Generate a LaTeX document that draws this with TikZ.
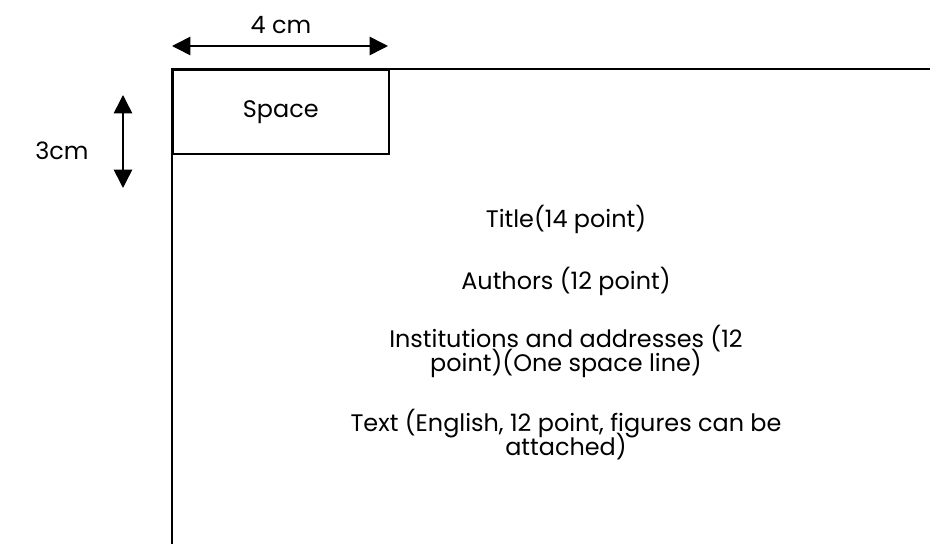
\documentclass[tikz,border=0pt]{standalone}
\usepackage{fontspec}
\setmainfont{Poppins}
\usetikzlibrary{arrows.meta}

\newcommand\tightlines{\lineskiplimit=-100pt\relax\lineskip=0pt\relax}

\tikzset{
  label text/.style={font=\fontsize{17}{17}\selectfont\tightlines, align=center, inner sep=0pt},
  dim arrow/.style={line width=1.1pt, {Triangle[length=13pt,width=13pt]}-{Triangle[length=13pt,width=13pt]}}
}

\begin{document}
\begin{tikzpicture}[x=0.025cm, y=-0.025cm]
    \useasboundingbox (0,0) rectangle (930,544);

    % page edge
    \coordinate (corner) at (172,69);
    \draw [line width=1.3pt] (930,69) -- (corner) -- (172,544);

    % free space in the corner
    \node [draw, line width=1.1pt, minimum width=5.4cm, minimum height=2.1cm, anchor=north west, label text] (space) at (corner) {Space};

    % dimensions
    \coordinate (wl) at (172,46);
    \coordinate (wr) at (388,46);
    \draw [dim arrow] (wl) -- (wr);
    \node [label text] (width) at (281,25) {4 cm};

    \coordinate (ht) at (123,95);
    \coordinate (hb) at (123,188);
    \draw [dim arrow] (ht) -- (hb);
    \node [label text] (height) at (62,151) {3cm};

    % contents of the page
    \node [label text] (title) at (566,219) {Title(14 point)};
    \node [label text] (authors) at (566,281) {Authors (12 point)};
    \node [label text] (inst) at (566,351) {Institutions and addresses (12\\point)(One space line)};
    \node [label text] (text) at (566,435) {Text (English, 12 point, figures can be\\attached)};
  \end{tikzpicture}
\end{document}
